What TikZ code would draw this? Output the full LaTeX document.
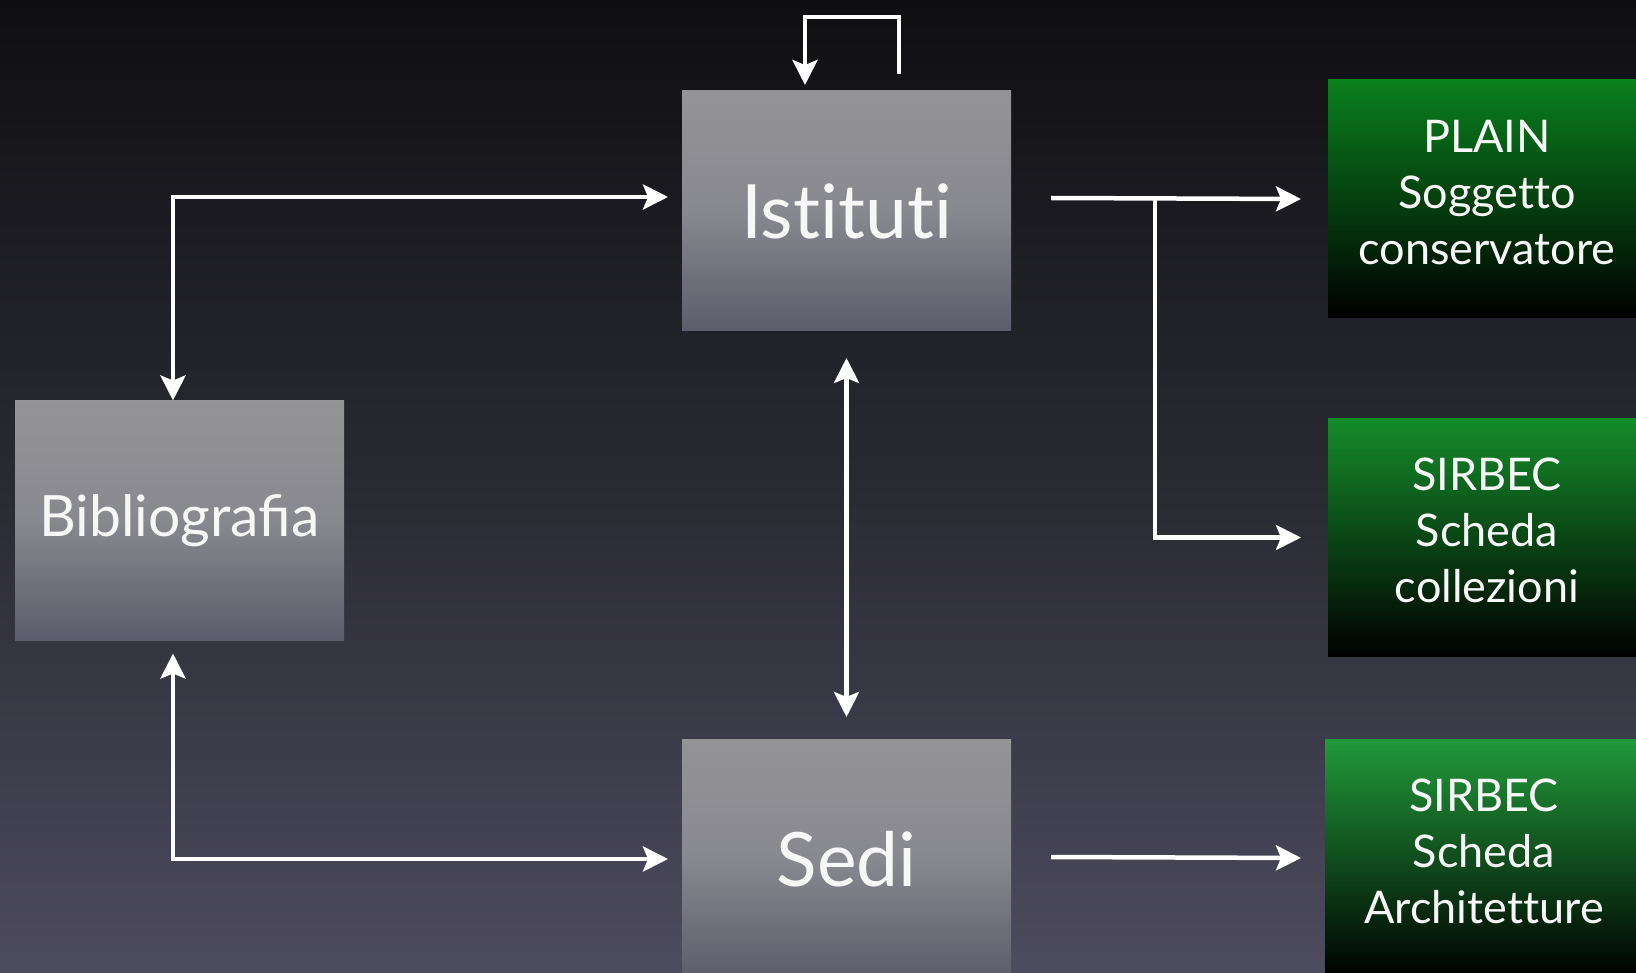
\documentclass[tikz,border=0pt]{standalone}
\usepackage{fontspec}
\setmainfont{Lato}[Ligatures=NoCommon]
\newfontfamily\ligfont{Lato}
\usetikzlibrary{arrows.meta,calc}
\definecolor{bgtop}{HTML}{0F0F12}
\definecolor{bgmid}{HTML}{2A2A33}
\definecolor{bgbot}{HTML}{4D4B5E}
\definecolor{gtop}{HTML}{949497}
\definecolor{gmid}{HTML}{88888F}
\definecolor{gbot}{HTML}{5C5C6C}
\definecolor{grtop}{HTML}{0A801E}
\definecolor{grmid}{HTML}{066A18}
\definecolor{grtopb}{HTML}{148C2A}
\definecolor{grmidb}{HTML}{0B7420}
\definecolor{grtopc}{HTML}{219A3A}
\definecolor{grmidc}{HTML}{16802A}
\definecolor{txt}{HTML}{F7F7F7}
\newcommand{\lowpad}{\rule[-14pt]{0pt}{0pt}}
\tikzset{
  graybox/.style={rectangle, inner sep=0pt, outer sep=0pt, minimum width=329pt, minimum height=240pt,
    top color=gtop, bottom color=gbot, middle color=gmid, text=txt},
  greenbox/.style={rectangle, inner sep=0pt, outer sep=0pt, minimum width=318pt, minimum height=238pt,
    bottom color=black, text=txt, align=center, font=\fontsize{45}{56}\selectfont},
  conn/.style={draw=white, line width=4.5pt, line join=miter,
    -{Stealth[length=25pt,width=25pt,inset=5pt]}},
  conntwo/.style={draw=white, line width=4.5pt, line join=miter,
    {Stealth[length=25pt,width=25pt,inset=5pt]}-{Stealth[length=25pt,width=25pt,inset=5pt]}}
}
\begin{document}
\begin{tikzpicture}[x=1pt,y=-1pt]
\useasboundingbox (0,0) rectangle (1636,973);
\begin{scope}
\clip (0,0) rectangle (1636,973);
\fill[top color=bgtop, bottom color=bgbot, middle color=bgmid] (0,0) rectangle (1636,973);
\node[graybox, font=\fontsize{75}{80}\selectfont] (ist) at (846.5,211) {Istituti};
\node[graybox, font=\ligfont\fontsize{57}{60}\selectfont] (bib) at (179.5,520.5) {Bibliografia};
\node[graybox, font=\fontsize{75}{80}\selectfont] (sedi) at (846.5,859) {Sedi};
\node[greenbox, top color=grtop, middle color=grmid, bottom color=black] (plain) at (1487,199) {PLAIN\\Soggetto\\conservatore\lowpad};
\node[greenbox, top color=grtopb, middle color=grmidb, bottom color=black] (coll) at (1487,537.5) {SIRBEC\\Scheda\\collezioni\lowpad};
\node[greenbox, top color=grtopc, middle color=grmidc, bottom color=black] (arch) at (1484,858) {SIRBEC\\Scheda\\Architetture\lowpad};
% connectors
\draw[conn] ($(ist.north)+(52.5,-17)$) -- ++(0,-57) -| ($(ist.north)+(-41.5,-6)$);
\draw[conntwo] ($(bib.north)+(-6.5,0)$) |- ($(ist.west)+(-14,-14)$);
\draw[conntwo] ($(bib.south)+(-6.5,13)$) |- ($(sedi.west)+(-14,0)$);
\draw[conntwo] ($(ist.south)+(0,27)$) -- ($(sedi.north)+(0,-22)$);
\draw[conn] ($(ist.east)+(40,-13)$) -- ($(plain.west)+(-27,0)$);
\coordinate (br) at ($(ist.east)+(144,-13)$);
\draw[conn] (br) |- ($(coll.west)+(-27,0)$);
\draw[conn] ($(sedi.east)+(40,-2)$) -- ($(arch.west)+(-24,0)$);
\end{scope}
\end{tikzpicture}
\end{document}
